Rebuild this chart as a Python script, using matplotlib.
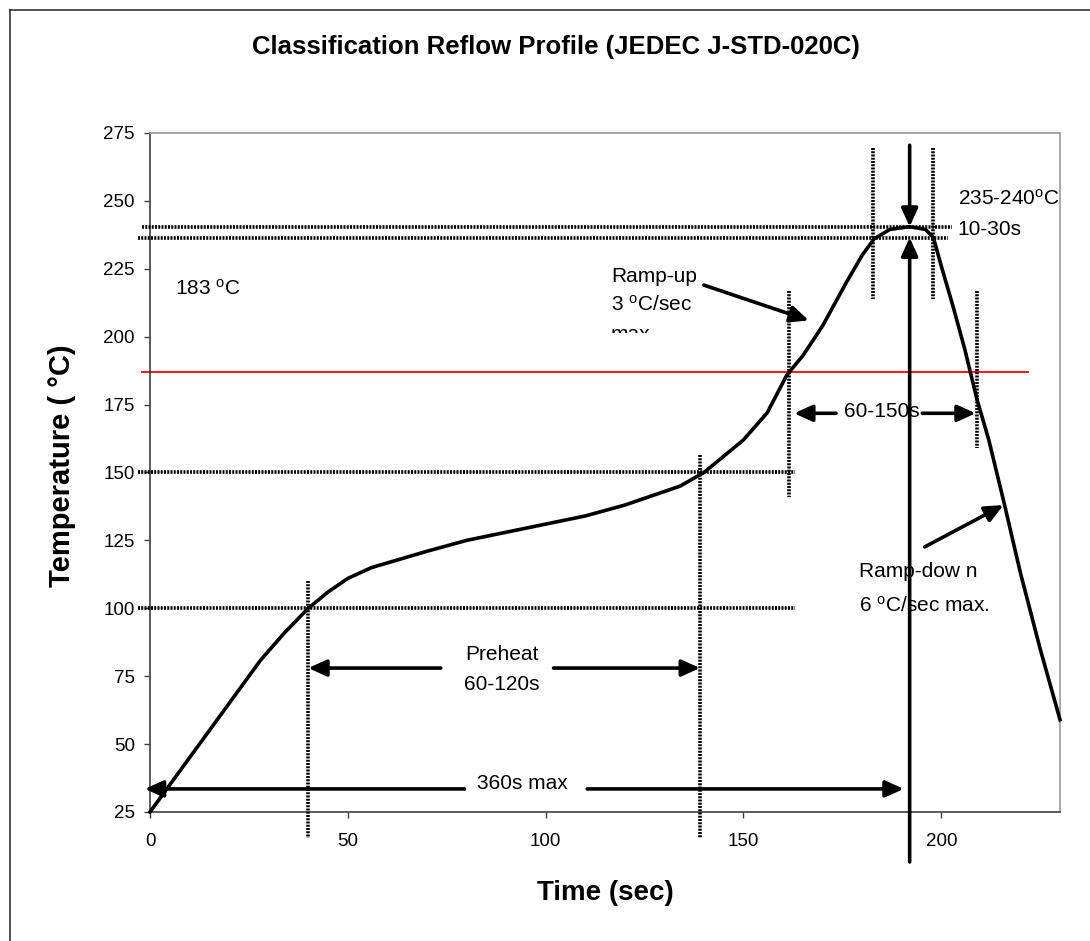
import matplotlib
matplotlib.use('Agg')
import matplotlib.pyplot as plt
from matplotlib.lines import Line2D
from matplotlib.patches import Rectangle

plt.rcParams['font.family'] = ['Liberation Sans', 'DejaVu Sans']
plt.rcParams['mathtext.fontset'] = 'custom'
plt.rcParams['mathtext.rm'] = 'Liberation Sans'
plt.rcParams['mathtext.it'] = 'Liberation Sans:italic'
plt.rcParams['mathtext.bf'] = 'Liberation Sans:bold'

# reflow profile
time_s = [0, 7, 14, 21, 28, 34, 40, 45, 50, 56, 63, 70, 80, 90, 100, 110, 120,
          128, 134, 140, 145, 150, 156, 161, 165, 170, 176, 180, 183, 187, 192,
          196, 198, 200, 203, 206, 209, 212, 216, 220, 225, 230]
temp_c = [25, 39, 53, 67, 81, 91, 100, 106, 111, 115, 118, 121, 125, 128, 131,
          134, 138, 142, 145, 150, 156, 162, 172, 186, 193, 204, 220, 230, 236,
          239.5, 240.5, 239.5, 236.5, 226, 211, 195, 177, 162, 138, 113, 85, 59]

x_ticks = [0, 50, 100, 150, 200]
y_ticks = [25, 50, 75, 100, 125, 150, 175, 200, 225, 250, 275]

liquidus_line = 187        # red line labelled 183 oC
preheat_temps = [100, 150]
preheat_times = [40, 139]
tal_times = [161.5, 209]   # 60-150s window
peak_band = [236.5, 240.5]
peak_window = [182.7, 198]
peak_time = 192

W, H = 1090, 941
fig = plt.figure(figsize=(W / 100, H / 100), dpi=100)
ax = fig.add_axes([150 / W, 1 - 812 / H, 910 / W, 679 / H])
ax.set_xlim(0, 230)
ax.set_ylim(25, 275)

for side in ['left', 'bottom']:
    ax.spines[side].set_color('#404040')
    ax.spines[side].set_linewidth(1.2)
for side in ['top', 'right']:
    ax.spines[side].set_color('#999999')
    ax.spines[side].set_linewidth(1.2)

ax.set_xticks(x_ticks)
ax.set_yticks(y_ticks)
ax.tick_params(direction='out', length=4, width=1, color='#404040', labelsize=13.5)
ax.tick_params(axis='x', pad=11)
ax.tick_params(axis='y', pad=7)

DOT = (0, (0.55, 0.35))


def dotted(xs, ys):
    ax.plot(xs, ys, color='black', lw=2.6, ls=DOT, clip_on=False, zorder=3)


def arrow(x0, y0, x1, y1):
    ax.annotate('', xy=(x1, y1), xytext=(x0, y0), annotation_clip=False,
                arrowprops=dict(arrowstyle='-|>,head_length=0.55,head_width=0.25',
                                lw=2.6, color='black', shrinkA=0, shrinkB=0,
                                mutation_scale=20), zorder=4)


# guide lines
for t in preheat_temps:
    dotted([-3, 163], [t, t])
dotted([-2, 202.6], [peak_band[1], peak_band[1]])
dotted([-3, 201.6], [peak_band[0], peak_band[0]])
dotted([preheat_times[0]] * 2, [110, 15.4])
dotted([preheat_times[1]] * 2, [156.5, 15.4])
dotted([tal_times[0]] * 2, [217, 141])
dotted([tal_times[1]] * 2, [217, 159])
for t in peak_window:
    dotted([t, t], [269.5, 214])

ax.plot([-2, 222], [liquidus_line, liquidus_line], color='red', lw=1.3,
        clip_on=False, zorder=2)

ax.plot(time_s, temp_c, color='black', lw=2.6, zorder=5, clip_on=False)

# peak arrows
arrow(peak_time, 270.5, peak_time, peak_band[1])
arrow(peak_time, 6.6, peak_time, peak_band[0])

# 360s max
arrow(79.5, 33.5, -1.3, 33.5)
arrow(110.5, 33.5, 190.5, 33.5)
ax.text(94, 33.5, '360s max', fontsize=15, ha='center', va='baseline')

# preheat
arrow(73.5, 78, preheat_times[0], 78)
arrow(102, 78, preheat_times[1], 78)
ax.text(89, 81, 'Preheat', fontsize=15, ha='center', va='baseline')
ax.text(89, 70, '60-120s', fontsize=15, ha='center', va='baseline')

# 60-150s
arrow(173.4, 171.8, 162.8, 171.8)
arrow(195.2, 171.8, 208.7, 171.8)
ax.text(175.4, 170.4, '60-150s', fontsize=15, ha='left', va='baseline')

# ramp up
arrow(140, 219, 166.5, 206)
ax.text(116.5, 220.3, 'Ramp-up', fontsize=15, va='baseline')
ax.text(116.5, 209.5, r'3 $^{\mathrm{o}}$C/sec', fontsize=15, va='baseline')
ax.text(116.5, 198.8, 'max', fontsize=15, va='baseline', zorder=1)
ax.add_patch(Rectangle((114, 194), 22, 7.4, facecolor='white', edgecolor='none',
                       zorder=1.5))

# ramp down
arrow(195.8, 122.6, 215.7, 138)
ax.text(179.2, 111.5, 'Ramp-dow n', fontsize=15, va='baseline')
ax.text(179.2, 98.6, r'6 $^{\mathrm{o}}$C/sec max.', fontsize=15, va='baseline')

# peak labels
ax.text(204.1, 248.5, r'235-240$^{\mathrm{o}}$C', fontsize=15, va='baseline',
        clip_on=False)
ax.text(204.1, 237.4, '10-30s', fontsize=15, va='baseline', clip_on=False)

ax.text(6.3, 215.4, r'183 $^{\mathrm{o}}$C', fontsize=15, va='baseline')

fig.text(556 / W, 1 - 47 / H, 'Classification Reflow Profile (JEDEC J-STD-020C)',
         fontsize=18.5, fontweight='bold', ha='center', va='center')
fig.text(605 / W, 1 - 900 / H, 'Time (sec)', fontsize=20, fontweight='bold',
         ha='center', va='baseline')
fig.text(62 / W, 1 - 466 / H, 'Temperature ( \u00b0C)', fontsize=21,
         fontweight='bold', ha='center', va='center', rotation=90)

# outer chart frame (only top and left edges inside the image)
fig.add_artist(Line2D([10 / W, 1.01], [1 - 10 / H] * 2, color='#333333', lw=1.2))
fig.add_artist(Line2D([10 / W] * 2, [-0.01, 1 - 10 / H], color='#333333', lw=1.2))

fig.savefig('out.png', dpi=100)
